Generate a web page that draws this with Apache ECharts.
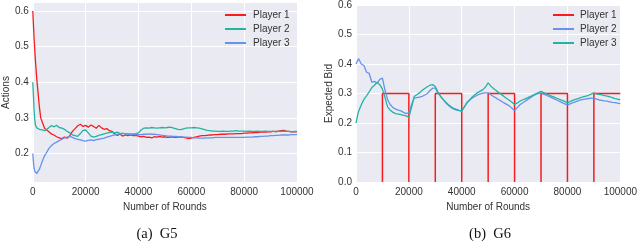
<!DOCTYPE html>
<html><head><meta charset="utf-8">
<script src="https://cdn.jsdelivr.net/npm/echarts@6/dist/echarts.min.js"></script>
<style>html,body{margin:0;padding:0;background:#fff}#c{width:640px;height:241px}</style>
</head><body><div id="c"></div>
<script>
// ---------- G5 ----------
const g5Rounds = [0,250,500,750,1000,1500,2000,2500,3000,3500,4000,4500,5000,
 6000,7000,8000,9000,10000,11000,12000,13000,14000,15000,
 16000,17000,18000,19000,20000,21000,22000,23000,24000,25000,
 26000,27000,28000,29000,30000,31000,32000,33000,34000,35000,
 36000,37000,38000,39000,40000,41000,42000,43000,44000,45000,
 46000,47000,48000,49000,50000,51000,52000,53000,54000,55000,
 56000,57000,58000,59000,60000,61000,62000,63000,64000,65000,
 66000,67000,68000,69000,70000,71000,72000,73000,74000,75000,
 76000,77000,78000,79000,80000,81000,82000,83000,84000,85000,
 86000,87000,88000,89000,90000,91000,92000,93000,94000,95000,
 96000,97000,98000,99000,100000];
const g5Player1 = [0.600,0.560,0.520,0.490,0.460,0.410,0.370,0.330,0.300,0.290,0.280,0.270,0.265,
 0.262,0.255,0.252,0.247,0.244,0.242,0.246,0.243,0.250,0.262,
 0.270,0.278,0.282,0.276,0.279,0.274,0.280,0.276,0.271,0.279,
 0.272,0.268,0.270,0.264,0.262,0.255,0.251,0.254,0.249,0.252,
 0.250,0.252,0.250,0.251,0.249,0.247,0.248,0.245,0.246,0.244,
 0.247,0.246,0.248,0.246,0.247,0.245,0.246,0.247,0.245,0.246,
 0.247,0.245,0.244,0.242,0.243,0.245,0.247,0.249,0.250,0.250,
 0.251,0.252,0.252,0.253,0.253,0.254,0.254,0.254,0.255,0.255,
 0.255,0.256,0.256,0.256,0.257,0.257,0.258,0.258,0.259,0.259,
 0.260,0.260,0.260,0.261,0.261,0.262,0.262,0.263,0.264,0.265,
 0.263,0.262,0.261,0.261,0.261];
const g5Player2 = [0.400,0.360,0.320,0.295,0.280,0.272,0.270,0.268,0.272,0.266,0.270,0.264,0.268,
 0.272,0.278,0.275,0.279,0.273,0.271,0.268,0.262,0.258,0.252,
 0.250,0.248,0.256,0.265,0.266,0.258,0.249,0.246,0.248,0.251,
 0.253,0.255,0.257,0.259,0.260,0.258,0.260,0.256,0.257,0.255,
 0.256,0.254,0.255,0.256,0.258,0.266,0.271,0.272,0.271,0.273,
 0.272,0.271,0.272,0.273,0.272,0.273,0.274,0.272,0.270,0.268,
 0.267,0.269,0.271,0.272,0.272,0.273,0.272,0.271,0.269,0.267,
 0.265,0.264,0.263,0.263,0.262,0.262,0.263,0.262,0.262,0.263,
 0.263,0.264,0.263,0.263,0.263,0.262,0.263,0.262,0.262,0.263,
 0.262,0.262,0.263,0.262,0.262,0.262,0.261,0.262,0.262,0.262,
 0.262,0.262,0.261,0.262,0.262];
const g5Player3 = [0.200,0.175,0.158,0.150,0.146,0.144,0.148,0.156,0.166,0.176,0.186,0.194,0.200,
 0.213,0.222,0.228,0.232,0.236,0.240,0.244,0.246,0.248,0.245,
 0.242,0.240,0.238,0.236,0.235,0.237,0.238,0.236,0.239,0.240,
 0.242,0.243,0.246,0.248,0.250,0.252,0.254,0.255,0.256,0.256,
 0.255,0.254,0.253,0.254,0.253,0.253,0.254,0.254,0.255,0.254,
 0.254,0.253,0.252,0.251,0.250,0.249,0.249,0.248,0.248,0.247,
 0.247,0.246,0.246,0.245,0.245,0.244,0.244,0.243,0.243,0.243,
 0.244,0.244,0.244,0.245,0.245,0.245,0.245,0.245,0.245,0.245,
 0.245,0.245,0.245,0.245,0.245,0.246,0.246,0.246,0.247,0.247,
 0.248,0.248,0.249,0.249,0.250,0.250,0.251,0.251,0.252,0.252,
 0.252,0.252,0.253,0.253,0.253];

// ---------- G6 ----------
const g6Rounds = [0,500,1000,2000,3000,4000,5000,6000,7000,8000,9000,10000,
 11000,12000,13000,14000,15000,16000,17000,18000,19000,20000,
 21000,22000,23000,24000,25000,26000,27000,28000,29000,30000,
 31000,32000,33000,34000,35000,36000,37000,38000,39000,40000,
 41000,42000,43000,44000,45000,46000,47000,48000,49000,50000,
 51000,52000,53000,54000,55000,56000,57000,58000,59000,60000,
 61000,62000,63000,64000,65000,66000,67000,68000,69000,70000,
 71000,72000,73000,74000,75000,76000,77000,78000,79000,80000,
 81000,82000,83000,84000,85000,86000,87000,88000,89000,90000,
 91000,92000,93000,94000,95000,96000,97000,98000,99000,100000];
const g6Player2 = [0.400,0.410,
 0.418,0.400,0.395,0.372,0.368,0.338,0.341,0.335,0.348,0.352,
 0.310,0.278,0.262,0.252,0.247,0.244,0.241,0.236,0.232,0.235,
 0.262,0.284,0.286,0.288,0.290,0.295,0.300,0.310,0.318,0.318,
 0.302,0.290,0.279,0.268,0.259,0.252,0.247,0.244,0.242,0.240,
 0.255,0.270,0.278,0.285,0.290,0.295,0.299,0.301,0.302,0.302,
 0.296,0.290,0.285,0.279,0.274,0.268,0.263,0.258,0.250,0.242,
 0.252,0.262,0.268,0.274,0.280,0.286,0.292,0.297,0.300,0.302,
 0.298,0.294,0.290,0.286,0.282,0.278,0.273,0.269,0.265,0.261,
 0.265,0.269,0.272,0.275,0.278,0.280,0.282,0.283,0.284,0.284,
 0.281,0.278,0.277,0.275,0.274,0.272,0.270,0.269,0.267,0.266];
const g6Player3 = [0.200,0.222,
 0.240,0.262,0.280,0.292,0.306,0.320,0.328,0.338,0.330,0.315,
 0.285,0.254,0.243,0.236,0.232,0.230,0.228,0.226,0.224,0.219,
 0.252,0.290,0.296,0.302,0.310,0.317,0.323,0.328,0.330,0.324,
 0.305,0.290,0.280,0.270,0.262,0.255,0.250,0.246,0.243,0.241,
 0.255,0.268,0.278,0.288,0.296,0.303,0.308,0.313,0.322,0.336,
 0.325,0.317,0.310,0.303,0.297,0.290,0.283,0.277,0.270,0.263,
 0.268,0.274,0.278,0.282,0.286,0.290,0.295,0.299,0.303,0.307,
 0.303,0.299,0.295,0.291,0.288,0.284,0.280,0.277,0.273,0.268,
 0.273,0.277,0.280,0.283,0.286,0.289,0.291,0.294,0.298,0.302,
 0.299,0.297,0.295,0.293,0.291,0.289,0.286,0.283,0.281,0.278];
// Player 1 bids 0.3 in alternate 10000-round blocks (zero stretches lie on the axis edge)
const g6Player1Rounds = [10000,10000,20000,20000,25000,
 30000,30000,40000,40000,45000,
 50000,50000,60000,60000,65000,
 70000,70000,80000,80000,85000,
 90000,90000,100000];
const g6Player1Bids = [0,0.3,0.3,0,null,
 0,0.3,0.3,0,null,
 0,0.3,0.3,0,null,
 0,0.3,0.3,0,null,
 0,0.3,0.3];

const g5YTicks = [0.2,0.3,0.4,0.5,0.6];

const RED = '#f81c1c', TEAL = '#22b4a0', BLUE = '#6592ee';
const pairs = (xs, ys) => xs.map((x, i) => [x, ys[i] == null ? '-' : ys[i]]);
const FONT = 'Liberation Sans';
const txt = {fontFamily: FONT, fontSize: 10, color: '#333'};

function xAxis(gi) {
  return {
    type: 'value', gridIndex: gi, min: 0, max: 100000, interval: 20000,
    name: 'Number of Rounds', nameLocation: 'middle', nameGap: 14,
    nameTextStyle: txt,
    axisLine: {show: false}, axisTick: {show: false},
    axisLabel: Object.assign({margin: 5, showMinLabel: true, showMaxLabel: true, formatter: v => String(v)}, txt),
    splitLine: {show: true, lineStyle: {color: '#fff', width: 1}}
  };
}
const lineS = (name, color, xs, ys, xi, w) => ({
  type: 'line', name, xAxisIndex: xi, yAxisIndex: xi,
  data: pairs(xs, ys), showSymbol: false, symbol: 'none', animation: false,
  connectNulls: false,
  lineStyle: {color, width: w || 1.3}, itemStyle: {color}
});
const capStyle = {fontFamily: 'Liberation Serif', fontSize: 14.5, fill: '#111', textAlign: 'center', textVerticalAlign: 'middle'};

const option = {
  animation: false,
  backgroundColor: '#fff',
  grid: [
    {left: 29, top: 3, width: 268, height: 179, show: true, backgroundColor: '#eaeaf2', borderWidth: 0},
    {left: 356, top: 3, width: 267, height: 179, show: true, backgroundColor: '#eaeaf2', borderWidth: 0}
  ],
  xAxis: [xAxis(0), xAxis(1)],
  yAxis: [
    {type: 'value', gridIndex: 0, min: 0.12, max: 0.6225,
     name: 'Actions', nameLocation: 'middle', nameGap: 19, nameTextStyle: txt,
     axisLine: {show: false}, axisTick: {show: false, customValues: g5YTicks},
     axisLabel: Object.assign({margin: 4, customValues: g5YTicks, formatter: v => (+v).toFixed(1)}, txt),
     splitLine: {show: true, lineStyle: {color: '#fff', width: 1}}},
    {type: 'value', gridIndex: 1, min: 0, max: 0.6, interval: 0.1,
     name: 'Expected Bid', nameLocation: 'middle', nameGap: 19, nameTextStyle: txt,
     axisLine: {show: false}, axisTick: {show: false},
     axisLabel: Object.assign({margin: 4, formatter: v => (+v).toFixed(1)}, txt),
     splitLine: {show: true, lineStyle: {color: '#fff', width: 1}}}
  ],
  legend: [
    {data: ['Player 1', 'Player 2', 'Player 3'], orient: 'vertical', left: 225, top: 8, padding: 0,
     icon: 'rect', itemWidth: 21, itemHeight: 2, itemGap: 0,
     textStyle: Object.assign({lineHeight: 14, padding: [0, 0, 0, 2]}, txt), selectedMode: false},
    {data: ['G6 Player 1', 'G6 Player 2', 'G6 Player 3'], orient: 'vertical', left: 553, top: 8, padding: 0,
     icon: 'rect', itemWidth: 21, itemHeight: 2, itemGap: 0,
     formatter: n => n.replace('G6 ', ''),
     textStyle: Object.assign({lineHeight: 14, padding: [0, 0, 0, 1]}, txt), selectedMode: false}
  ],
  graphic: [
    {type: 'text', x: 157, y: 234, style: Object.assign({text: '(a)  G5'}, capStyle)},
    {type: 'text', x: 490, y: 234, style: Object.assign({text: '(b)  G6'}, capStyle)}
  ],
  series: [
    lineS('Player 1', RED, g5Rounds, g5Player1, 0),
    lineS('Player 2', TEAL, g5Rounds, g5Player2, 0),
    lineS('Player 3', BLUE, g5Rounds, g5Player3, 0),
    lineS('G6 Player 1', RED, g6Player1Rounds, g6Player1Bids, 1, 1.5),
    lineS('G6 Player 2', BLUE, g6Rounds, g6Player2, 1),
    lineS('G6 Player 3', TEAL, g6Rounds, g6Player3, 1)
  ]
};
const chart = echarts.init(document.getElementById('c'), null, {renderer: 'canvas'});
chart.setOption(option);
</script></body></html>
